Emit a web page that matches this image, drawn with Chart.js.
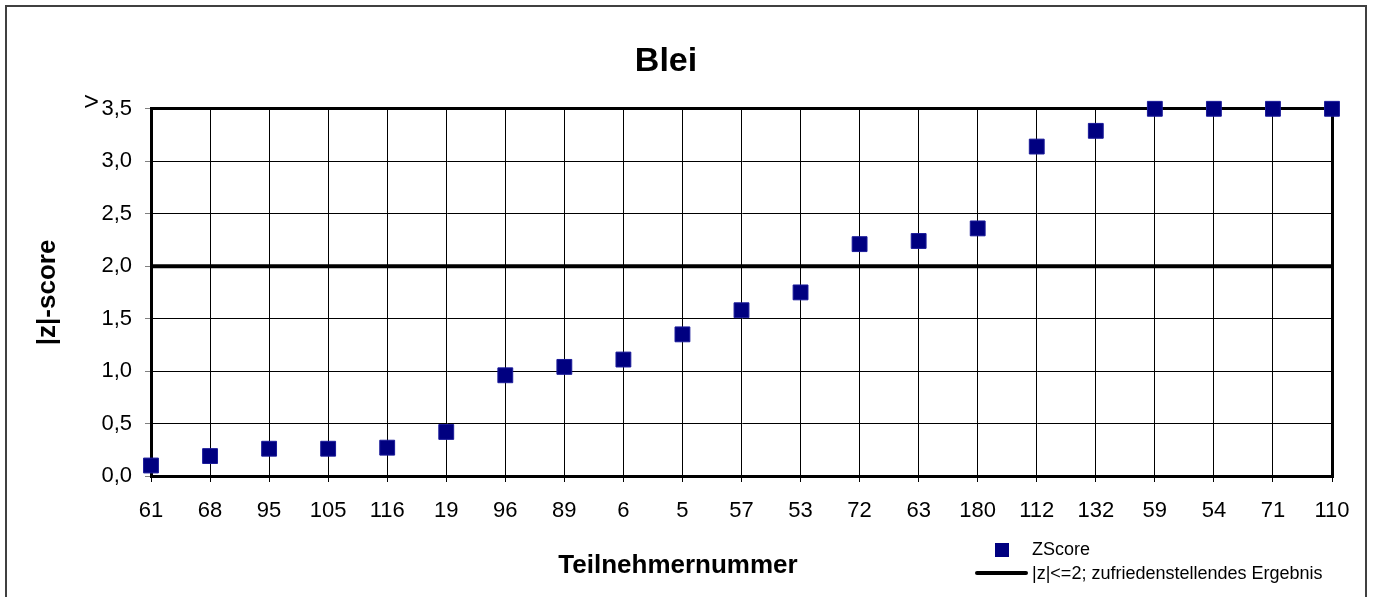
<!DOCTYPE html>
<html>
<head>
<meta charset="utf-8">
<title>Blei</title>
<script src="https://cdn.jsdelivr.net/npm/chart.js@4"></script>
<style>
  html, body { margin: 0; padding: 0; background: #fff; }
  #wrap { position: relative; width: 1374px; height: 597px; }
</style>
</head>
<body>
<div id="wrap"><canvas id="bleiChart" width="1374" height="597"></canvas></div>
<script>
// Teilnehmer (x-Achse) und |z|-Werte
const teilnehmer = ['61', '68', '95', '105', '116', '19', '96', '89', '6', '5', '57', '53', '72', '63', '180', '112', '132', '59', '54', '71', '110'];
const zScores = [0.10, 0.19, 0.26, 0.26, 0.27, 0.42, 0.96, 1.04, 1.11, 1.35, 1.58, 1.75, 2.21, 2.24, 2.36, 3.14, 3.29, 3.5, 3.5, 3.5, 3.5];
const grenzwert = 2.0;
const yMin = 0, yMax = 3.5, yStep = 0.5;

const FONT = "'Liberation Sans', Arial, sans-serif";
const navy = '#000080';

// Rahmen, Legende, Achsentitel unten, ">" vor 3,5
const extras = {
  id: 'extras',
  beforeDraw(chart) {
    const ctx = chart.ctx;
    ctx.save();
    ctx.fillStyle = '#fff';
    ctx.fillRect(0, 0, chart.width, chart.height);
    ctx.strokeStyle = '#404040';
    ctx.lineWidth = 2;
    ctx.strokeRect(6, 6, 1360, 620);
    ctx.restore();
  },
  afterDraw(chart) {
    const ctx = chart.ctx;
    const y = chart.scales.y;
    ctx.save();
    // ">" vor dem obersten Tick
    ctx.fillStyle = '#000';
    ctx.font = '26px ' + FONT;
    ctx.textAlign = 'right';
    ctx.textBaseline = 'middle';
    ctx.fillText('>', 99, y.getPixelForValue(yMax) - 6);

    // x-Achsentitel
    ctx.font = 'bold 26px ' + FONT;
    ctx.textAlign = 'center';
    ctx.fillText('Teilnehmernummer', 678, 566);

    // Legende
    ctx.font = '18px ' + FONT;
    ctx.textAlign = 'left';
    ctx.fillStyle = navy;
    ctx.fillRect(995, 543, 14, 14);
    ctx.fillStyle = '#000';
    ctx.fillText(chart.data.datasets[0].label, 1032, 550);
    ctx.strokeStyle = '#000';
    ctx.lineWidth = 4;
    ctx.lineCap = 'round';
    ctx.beginPath();
    ctx.moveTo(977, 573);
    ctx.lineTo(1026, 573);
    ctx.stroke();
    ctx.fillText(chart.data.datasets[1].label, 1032, 574);
    ctx.restore();
  }
};

new Chart(document.getElementById('bleiChart'), {
  type: 'line',
  data: {
    labels: teilnehmer,
    datasets: [{
      label: 'ZScore',
      data: zScores,
      showLine: false,
      pointStyle: 'rect',
      pointRadius: 10.5,
      pointHoverRadius: 10.5,
      backgroundColor: navy,
      borderColor: '#1a1a99',
      borderWidth: 1,
      clip: false
    }, {
      label: '|z|<=2; zufriedenstellendes Ergebnis',
      data: teilnehmer.map(() => grenzwert),
      borderColor: '#000',
      borderWidth: 4,
      pointRadius: 0,
      pointHoverRadius: 0,
      fill: false
    }]
  },
  options: {
    responsive: false,
    animation: false,
    events: [],
    layout: { padding: { left: 0, right: 42, top: 0, bottom: 0 } },
    plugins: {
      legend: { display: false },
      tooltip: { enabled: false },
      title: {
        display: true,
        text: 'Blei',
        color: '#000',
        font: { family: FONT, size: 34, weight: 'bold' },
        padding: { top: 41, bottom: 27 }
      }
    },
    scales: {
      x: {
        offset: false,
        afterFit(scale) { scale.height = 121; },
        border: { color: '#000', width: 3 },
        grid: {
          color: '#000',
          lineWidth: ctx => (ctx.index === 0 || ctx.index === teilnehmer.length - 1) ? 3 : 1,
          tickLength: 6,
          tickColor: '#000',
          tickWidth: 1
        },
        ticks: {
          color: '#000',
          font: { family: FONT, size: 22 },
          padding: 16,
          maxRotation: 0,
          autoSkip: false
        }
      },
      y: {
        min: yMin,
        max: yMax,
        afterFit(scale) { scale.width = 151; },
        border: { color: '#000', width: 3 },
        grid: {
          color: '#000',
          lineWidth: ctx => (ctx.tick && ctx.tick.value === yMax) ? 3 : 1,
          tickLength: 6,
          tickColor: '#808080',
          tickWidth: 1
        },
        ticks: {
          stepSize: yStep,
          color: '#000',
          font: { family: FONT, size: 22 },
          padding: 13,
          callback: v => v.toFixed(1).replace('.', ',')
        },
        title: {
          display: true,
          text: '|z|-score',
          color: '#000',
          font: { family: FONT, size: 26, weight: 'bold' },
          padding: { top: 32, bottom: 0 }
        }
      }
    }
  },
  plugins: [extras]
});
</script>
</body>
</html>
